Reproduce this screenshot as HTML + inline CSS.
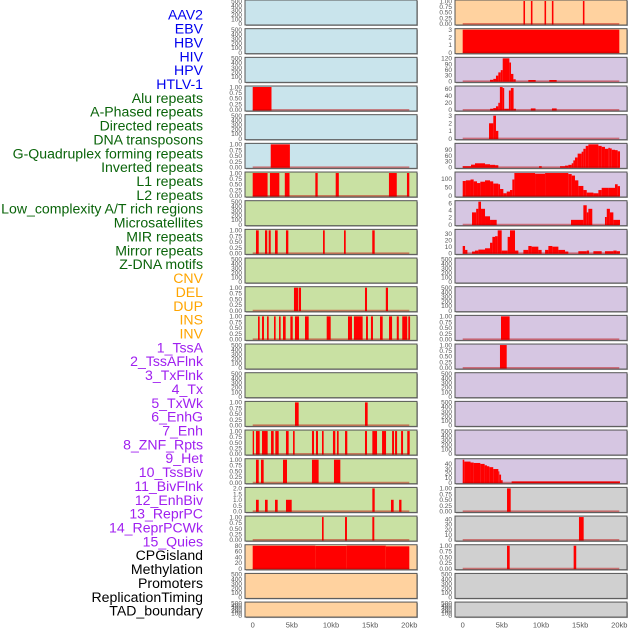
<!DOCTYPE html>
<html><head><meta charset="utf-8"><style>
html,body{margin:0;padding:0;background:#fff;}
svg{display:block;}
</style></head><body>
<svg id="chart" width="630" height="630" viewBox="0 0 630 630" xmlns="http://www.w3.org/2000/svg" font-family="Liberation Sans, sans-serif">
<g id="labels"></g>
<g id="panels"></g>
<g id="xaxis"></g>
</svg>
<script>
// ---- labels ----
const labelNames = ["AAV2","EBV","HBV","HIV","HPV","HTLV-1","Alu repeats","A-Phased repeats","Directed repeats","DNA transposons","G-Quadruplex forming repeats","Inverted repeats","L1 repeats","L2 repeats","Low_complexity A/T rich regions","Microsatellites","MIR repeats","Mirror repeats","Z-DNA motifs","CNV","DEL","DUP","INS","INV","1_TssA","2_TssAFlnk","3_TxFlnk","4_Tx","5_TxWk","6_EnhG","7_Enh","8_ZNF_Rpts","9_Het","10_TssBiv","11_BivFlnk","12_EnhBiv","13_ReprPC","14_ReprPCWk","15_Quies","CPGisland","Methylation","Promoters","ReplicationTiming","TAD_boundary"];
const labelGroups = [0,0,0,0,0,0,1,1,1,1,1,1,1,1,1,1,1,1,1,2,2,2,2,2,3,3,3,3,3,3,3,3,3,3,3,3,3,3,3,4,4,4,4,4];
const groupColors = ["#0000ee","#0a640a","#ffa500","#a020f0","#000000"];

// ---- x axis ----
const xTickValues = [0,5,10,15,20];
const xTickLabels = ["0","5kb","10kb","15kb","20kb"];

// ---- data (kb positions, values) ----
const aluStart=[0], aluEnd=[2.4], aluVal=[1];
const gquadStart=[2.3], gquadEnd=[4.75], gquadVal=[1];
const l1Start=[0,2.2,4.1,8.0,10.6,17.4,19.7], l1End=[1.9,3.4,4.7,8.3,11.0,18.4,20.0], l1Val=[1,1,1,1,1,1,1];
const mirStart=[0.42,1.57,2.04,2.85,4.25,8.98,11.66,15.27], mirEnd=[0.77,1.86,2.3,3.19,4.55,9.2,11.88,15.58], mirVal=[1,1,1,1,1,1,1,1];
const delStart=[5.27,5.91,14.34,17.0], delEnd=[5.83,6.17,14.6,17.28], delVal=[1,1,1,1];
const insStart=[0.68,1.19,1.83,2.72,3.36,3.87,4.81,5.40,6.68,9.45,12.17,12.93,14.47,15.1,16.26,17.41,18.4,19.1,19.87];
const insEnd=[0.89,1.44,2.04,2.93,3.57,4.21,5.11,5.91,7.15,9.96,12.68,14.04,14.72,15.36,16.6,17.8,18.66,19.74,20.1];
const insVal=[1,1,1,1,1,1,1,1,1,1,1,1,1,1,1,1,1,1,1];
const txwkStart=[5.40,14.34], txwkEnd=[5.87,14.68], txwkVal=[1,1];
const enhStart=[0,0.42,1.19,2.34,2.89,4.25,5.15,7.57,8.08,8.85,10.25,10.76,11.79,14.34,15.28,16.52,17.8,18.18,18.95,19.74];
const enhEnd=[0.17,0.89,1.91,2.68,3.32,4.59,5.36,7.83,8.34,9.06,10.55,10.98,12.08,14.6,15.88,17.03,18.05,18.44,19.2,20.05];
const enhVal=[1,1,1,1,1,1,1,1,1,1,1,1,1,1,1,1,1,1,1,1];
const hetStart=[0.42,1.06,3.87,7.57,10.38], hetEnd=[0.77,1.40,4.38,8.42,11.19], hetVal=[1,1,1,1,1];
const bivStart=[0.42,1.57,2.85,4.25,15.28,17.66,18.7], bivEnd=[0.77,1.91,3.19,4.98,15.58,18.0,19.0], bivVal=[1,1,1,1,2,1,1];
const reprStart=[8.85,11.79,15.28], reprEnd=[9.06,12.04,15.53], reprVal=[1,1,1];
const cpgStart=[0,8,12,17], cpgEnd=[8,12,17,20], cpgVal=[80,79,80,78];
const ebvStart=[7.76,8.71,10.45,11.39,15.35], ebvEnd=[7.96,8.91,10.65,11.59,15.55], ebvVal=[1,1,1,1,1];
const hivBlockStart=[0], hivBlockEnd=[20], hivBlockVal=[3];
const hivStart=[3.49,3.91,4.25,4.55,4.86,5.11,5.96,6.17,6.47,8.38,11.06];
const hivEnd=[3.91,4.25,4.55,4.86,5.11,5.96,6.17,6.47,6.77,9.32,12.0];
const hivVal=[7,12,29,46,58,120,98,38,10,6,6];
const aphStart=[3.5,3.9,4.25,4.55,4.75,5.1,5.3,5.9,6.15,6.5,8.7,11.4];
const aphEnd=[3.9,4.25,4.55,4.75,5.1,5.3,5.9,6.15,6.5,6.8,9.3,12.0];
const aphVal=[3,5,10,20,65,62,3,55,62,3,4,4];
const dnaStart=[3.36,3.91,4.25], dnaEnd=[3.91,4.25,4.55], dnaVal=[2,3,1];
const invStart=[0,1.06,1.57,2.85,3.49,4.13,9.75,12.43,13.07,13.49,13.92,14.13,14.34,14.68,15.19,15.41,15.71,16.05,17.33,17.75,18.17,18.6,18.8,19.03,19.45,19.79];
const invEnd=[1.06,1.57,2.85,3.49,4.13,4.55,10.09,13.07,13.49,13.92,14.13,14.34,14.68,15.19,15.41,15.71,16.05,17.33,17.75,18.17,18.6,18.8,19.03,19.45,19.79,20.09];
const invVal=[5,13,20,15,12,10,5,5,8,12,20,35,50,70,80,95,110,118,110,105,95,100,97,90,88,82];
const l2Start=[0,0.4,1.0,1.4,1.83,2.25,2.85,3.49,3.9,4.55,4.77,5.19,5.62,6.04,6.34,6.6,9.24,10.52,13.49,13.92,14.34,14.77,15.41,15.84,16.69,17.33,17.75,18.6,19.45,19.79];
const l2End=[0.4,1.0,1.4,1.83,2.25,2.85,3.49,3.9,4.55,4.77,5.19,5.62,6.04,6.34,6.6,9.24,10.52,13.49,13.92,14.34,14.77,15.41,15.84,16.69,17.33,17.75,18.6,19.45,19.79,20.09];
const l2Val=[87,91,96,85,75,83,91,85,72,68,40,15,25,34,96,134,130,134,128,119,91,58,34,19,15,34,47,47,68,57];
const microStart=[1.19,1.72,2.0,2.34,2.85,3.49,13.83,15.41,15.84,16.05,18.17,18.4,18.8,19.24];
const microEnd=[1.72,2.0,2.34,2.85,3.49,4.34,15.41,15.84,16.05,16.55,18.4,18.8,19.24,20.09];
const microVal=[3.4,4.4,6.4,4.4,2.3,1.3,1.3,5.4,3.4,4.4,2.1,4.4,3.4,1.3];
const mirrorStart=[0,0.3,1.19,1.57,2.0,2.85,3.49,3.79,4.13,4.47,4.98,5.74,6.04,6.68,7.75,8.38,8.8,9.66,10.52,10.94,11.45,12.22,13.07,14.77,15.84,16.69,18.17,19.24,19.66];
const mirrorEnd=[0.3,0.6,1.57,2.0,2.85,3.49,3.79,4.13,4.47,4.98,5.74,6.04,6.68,7.11,8.38,8.8,9.66,10.08,10.94,11.45,12.22,13.07,13.49,15.84,16.14,17.75,19.24,19.66,20.09];
const mirrorVal=[11,5,2.5,4,5.5,7.5,16,25,26,35,4,25,35,4,5,11,10,5,5,11,10,5,2.5,3,4,3,3,4,3];
const insRStart=[4.89], insREnd=[5.99], insRVal=[1];
const invRStart=[4.76], invREnd=[5.62], invRVal=[1];
const tssbivStart=[0,0.2,1.0,1.4,2.25,2.8,3.1,3.4,3.9,4.55,4.68,4.9,6.25];
const tssbivEnd=[0.2,1.0,1.4,2.25,2.8,3.1,3.4,3.9,4.55,4.68,4.9,5.1,20.09];
const tssbivVal=[49,45,43,42,40,37,35,33,29,24,17,5,2.5];
const enhbivStart=[5.66], enhbivEnd=[6.13], enhbivVal=[1];
const reprwkStart=[14.85], reprwkEnd=[15.45], reprwkVal=[44];
const cpgRStart=[5.66,14.17], cpgREnd=[6.0,14.5], cpgRVal=[1,1];

// ---- tick sets ----
const ticksEmpty=[0,100,200,300,400,500], ticksEmptyLab=["0","100","200","300","400","500"];
const ticksUnit=[0,0.25,0.5,0.75,1], ticksUnitLab=["0.00","0.25","0.50","0.75","1.00"];
const ticksTwo=[0,0.5,1,1.5,2], ticksTwoLab=["0.0","0.5","1.0","1.5","2.0"];
const ticksThree=[0,1,2,3], ticksThreeLab=["0","1","2","3"];
const ticksHiv=[0,30,60,90,120], ticksHivLab=["0","30","60","90","120"];
const ticks60=[0,20,40,60], ticks60Lab=["0","20","40","60"];
const ticks90=[0,30,60,90], ticks90Lab=["0","30","60","90"];
const ticks100=[0,50,100], ticks100Lab=["0","50","100"];
const ticks6=[0,2,4,6], ticks6Lab=["0","2","4","6"];
const ticks30=[0,10,20,30], ticks30Lab=["0","10","20","30"];
const ticks40=[0,10,20,30,40], ticks40Lab=["0","10","20","30","40"];
const ticks80=[0,20,40,60,80], ticks80Lab=["0","20","40","60","80"];

const BLUE="#c9e4ec", GREEN="#c9e1a3", ORANGE="#ffd29f", PURPLE="#d6c6e2", GRAY="#d0d0d0";

const panels = [
 [0,0,BLUE,500,ticksEmpty,ticksEmptyLab,null,null,null,"aav2"],
 [0,1,BLUE,500,ticksEmpty,ticksEmptyLab,null,null,null,"hbv"],
 [0,2,BLUE,500,ticksEmpty,ticksEmptyLab,null,null,null,"hpv"],
 [0,3,BLUE,1,ticksUnit,ticksUnitLab,aluStart,aluEnd,aluVal,"alu"],
 [0,4,BLUE,500,ticksEmpty,ticksEmptyLab,null,null,null,"directed"],
 [0,5,BLUE,1,ticksUnit,ticksUnitLab,gquadStart,gquadEnd,gquadVal,"gquad"],
 [0,6,GREEN,1,ticksUnit,ticksUnitLab,l1Start,l1End,l1Val,"l1"],
 [0,7,GREEN,500,ticksEmpty,ticksEmptyLab,null,null,null,"lowcomplexity"],
 [0,8,GREEN,1,ticksUnit,ticksUnitLab,mirStart,mirEnd,mirVal,"mir"],
 [0,9,GREEN,500,ticksEmpty,ticksEmptyLab,null,null,null,"zdna"],
 [0,10,GREEN,1,ticksUnit,ticksUnitLab,delStart,delEnd,delVal,"del"],
 [0,11,GREEN,1,ticksUnit,ticksUnitLab,insStart,insEnd,insVal,"ins"],
 [0,12,GREEN,500,ticksEmpty,ticksEmptyLab,null,null,null,"tssa"],
 [0,13,GREEN,500,ticksEmpty,ticksEmptyLab,null,null,null,"txflnk"],
 [0,14,GREEN,1,ticksUnit,ticksUnitLab,txwkStart,txwkEnd,txwkVal,"txwk"],
 [0,15,GREEN,1,ticksUnit,ticksUnitLab,enhStart,enhEnd,enhVal,"enh"],
 [0,16,GREEN,1,ticksUnit,ticksUnitLab,hetStart,hetEnd,hetVal,"het"],
 [0,17,GREEN,2,ticksTwo,ticksTwoLab,bivStart,bivEnd,bivVal,"bivflnk"],
 [0,18,GREEN,1,ticksUnit,ticksUnitLab,reprStart,reprEnd,reprVal,"reprpc"],
 [0,19,ORANGE,80,ticks80,ticks80Lab,cpgStart,cpgEnd,cpgVal,"quies"],
 [0,20,ORANGE,500,ticksEmpty,ticksEmptyLab,null,null,null,"methylation"],
 [0,21,ORANGE,500,ticksEmpty,ticksEmptyLab,null,null,null,"replication"],
 [1,0,ORANGE,1,ticksUnit,ticksUnitLab,ebvStart,ebvEnd,ebvVal,"ebv"],
 [1,1,ORANGE,3,ticksThree,ticksThreeLab,hivBlockStart,hivBlockEnd,hivBlockVal,"hiv-block"],
 [1,2,PURPLE,120,ticksHiv,ticksHivLab,hivStart,hivEnd,hivVal,"htlv"],
 [1,3,PURPLE,65,ticks60,ticks60Lab,aphStart,aphEnd,aphVal,"aphased"],
 [1,4,PURPLE,3,ticksThree,ticksThreeLab,dnaStart,dnaEnd,dnaVal,"dna-transposons"],
 [1,5,PURPLE,118,ticks90,ticks90Lab,invStart,invEnd,invVal,"inverted"],
 [1,6,PURPLE,134,ticks100,ticks100Lab,l2Start,l2End,l2Val,"l2"],
 [1,7,PURPLE,6.4,ticks6,ticks6Lab,microStart,microEnd,microVal,"microsatellites"],
 [1,8,PURPLE,35,ticks30,ticks30Lab,mirrorStart,mirrorEnd,mirrorVal,"mirror"],
 [1,9,PURPLE,500,ticksEmpty,ticksEmptyLab,null,null,null,"cnv"],
 [1,10,PURPLE,500,ticksEmpty,ticksEmptyLab,null,null,null,"dup"],
 [1,11,PURPLE,1,ticksUnit,ticksUnitLab,insRStart,insREnd,insRVal,"inv"],
 [1,12,PURPLE,1,ticksUnit,ticksUnitLab,invRStart,invREnd,invRVal,"tssaflnk"],
 [1,13,PURPLE,500,ticksEmpty,ticksEmptyLab,null,null,null,"tx"],
 [1,14,PURPLE,500,ticksEmpty,ticksEmptyLab,null,null,null,"enhg"],
 [1,15,PURPLE,500,ticksEmpty,ticksEmptyLab,null,null,null,"znf"],
 [1,16,PURPLE,49,ticks40,ticks40Lab,tssbivStart,tssbivEnd,tssbivVal,"tssbiv"],
 [1,17,GRAY,1,ticksUnit,ticksUnitLab,enhbivStart,enhbivEnd,enhbivVal,"enhbiv"],
 [1,18,GRAY,44,ticks40,ticks40Lab,reprwkStart,reprwkEnd,reprwkVal,"reprpcwk"],
 [1,19,GRAY,1,ticksUnit,ticksUnitLab,cpgRStart,cpgREnd,cpgRVal,"cpgisland"],
 [1,20,GRAY,500,ticksEmpty,ticksEmptyLab,null,null,null,"promoters"],
 [1,21,GRAY,500,ticksEmpty,ticksEmptyLab,null,null,null,"tad-boundary"]
];

const NS="http://www.w3.org/2000/svg";
const colLeft=[245,455], colRight=[417,627], colZero=[252.7,462.7], pxPerKb=7.83;
function rowTop(r){return r*28.67;}
function rowH(r){return r===21?15:25;}
function xScale(col,kb){return colZero[col]+kb*pxPerKb;}
function yScale(top,h,ymax,v){const b=top+h-1.2, t=top+1; return b-(v/ymax)*(b-t);}
function mk(tag,attrs,parent){const e=document.createElementNS(NS,tag);for(const k in attrs)e.setAttribute(k,attrs[k]);parent.appendChild(e);return e;}

const lg=document.getElementById('labels');
labelNames.forEach((n,i)=>{
  const t=mk('text',{x:203,y:15+i*13.86+4.7,'text-anchor':'end','font-size':14.1,fill:groupColors[labelGroups[i]]},lg);
  
  
  t.textContent=n;
});

const pg=document.getElementById('panels');
panels.forEach(p=>{
  const [col,row,bg,ymax,ticks,tlabs,st,en,va,name]=p;
  const top=rowTop(row), h=rowH(row), x0=colLeft[col], x1=colRight[col];
  const g=mk('g',{},pg);
  
  
  mk('rect',{x:x0+1,y:top+1,width:x1-x0,height:h,fill:'#aaa'},g);
  const bgr=mk('rect',{x:x0,y:top,width:x1-x0,height:h,fill:bg,stroke:'#555','stroke-width':1},g);
  
  
  ticks.forEach((tv,i)=>{
    const ty=yScale(top,h,ymax,tv);
    const tt=mk('text',{x:x0-3,y:ty+2.3,'text-anchor':'end','font-size':6.5,fill:'#555'},g);
    
    
    tt.textContent=tlabs[i];
  });
  if(st){
    st.forEach((s,i)=>{
      const xa=xScale(col,s), xb=xScale(col,en[i]);
      const yv=yScale(top,h,ymax,va[i]), yb=yScale(top,h,ymax,0);
      const r=mk('rect',{x:xa,y:yv,width:Math.max(1,xb-xa),height:Math.max(0,yb-yv+0.6),fill:'#ff0000'},g);
      
      
    });
    const yb=yScale(top,h,ymax,0);
    const bl=mk('line',{x1:xScale(col,0),x2:xScale(col,20),y1:yb,y2:yb,stroke:'rgba(190,0,0,0.45)','stroke-width':1.6},g);
    
    
  }
});

const xg=document.getElementById('xaxis');
[0,1].forEach(col=>{
  xTickValues.forEach((v,i)=>{
    const t=mk('text',{x:xScale(col,v),y:627.5,'text-anchor':'middle','font-size':7.5,fill:'#555'},xg);
    
    
    t.textContent=xTickLabels[i];
  });
});
</script>
</body></html>
